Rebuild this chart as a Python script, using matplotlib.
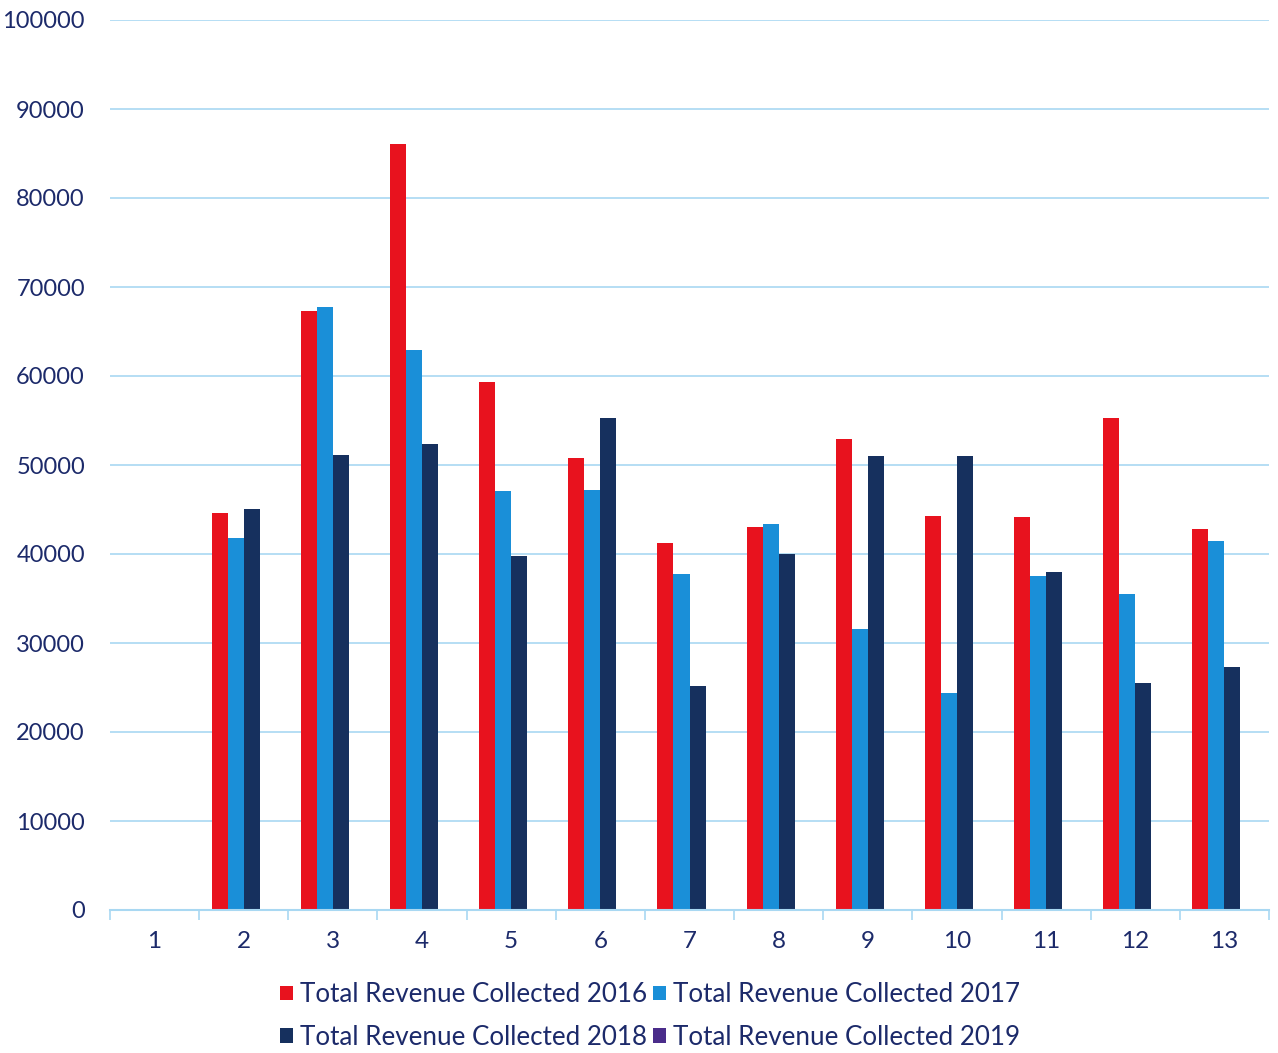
import matplotlib
matplotlib.use("Agg")
import matplotlib.pyplot as plt
import numpy as np
from matplotlib.ticker import FixedLocator

categories = ["1", "2", "3", "4", "5", "6", "7", "8", "9", "10", "11", "12", "13"]
rev_2016 = [0, 44600, 67300, 86100, 59300, 50800, 41200, 43000, 52900, 44300, 44200, 55300, 42800]
rev_2017 = [0, 41800, 67800, 62900, 47100, 47200, 37800, 43400, 31600, 24400, 37500, 35500, 41500]
rev_2018 = [0, 45100, 51100, 52400, 39800, 55300, 25200, 40000, 51000, 51000, 38000, 25500, 27300]
rev_2019 = [0, 0, 0, 0, 0, 0, 0, 0, 0, 0, 0, 0, 0]
series_names = ["Total Revenue Collected 2016", "Total Revenue Collected 2017",
                "Total Revenue Collected 2018", "Total Revenue Collected 2019"]
colors = ["#e8121e", "#1a8fd8", "#16305e", "#4a2c8a"]

text_color = "#1c2a6a"
grid_color = "#a9d8f2"
plt.rcParams['font.family'] = ['Lato', 'DejaVu Sans']

fig = plt.figure(figsize=(12.78, 10.53), dpi=100)
ax = fig.add_axes([110/1278, 1 - 910/1053, (1269-110)/1278, (910-20)/1053])

x = np.arange(len(categories))
w = 0.18
data = [rev_2016, rev_2017, rev_2018, rev_2019]
handles = []
for i, (vals, c, name) in enumerate(zip(data, colors, series_names)):
    b = ax.bar(x + (i - 1.5) * w, vals, width=w, color=c, label=name, linewidth=0)
    handles.append(b)

ax.set_xlim(-0.5, len(categories) - 0.5)
ax.set_ylim(0, 100000)
ax.set_yticks(np.arange(0, 100001, 10000))
ax.grid(axis='y', color=grid_color, linewidth=1.2)
ax.set_axisbelow(True)
for s in ['top', 'right', 'left']:
    ax.spines[s].set_visible(False)
ax.spines['bottom'].set_color(grid_color)
ax.spines['bottom'].set_linewidth(1.5)

ax.set_xticks(x)
ax.set_xticklabels(categories)
ax.xaxis.set_minor_locator(FixedLocator(np.arange(-0.5, len(categories), 1.0)))
ax.tick_params(axis='x', which='major', length=0, pad=15, labelsize=17.5, labelcolor=text_color)
ax.tick_params(axis='x', which='minor', length=7, width=1.2, color=grid_color, direction='out')
ax.tick_params(axis='y', length=0, pad=18, labelsize=17, labelcolor=text_color)

order = [0, 2, 1, 3]
leg = fig.legend([handles[i] for i in order], [series_names[i] for i in order],
                 ncol=2, loc='center', bbox_to_anchor=(650/1278, 1 - 1016/1053),
                 frameon=False, fontsize=18.7, handlelength=0.5, handleheight=0.5,
                 handletextpad=0.25, columnspacing=0.25, labelspacing=0.68)
for t in leg.get_texts():
    t.set_color(text_color)

fig.savefig("out.png", dpi=100)
